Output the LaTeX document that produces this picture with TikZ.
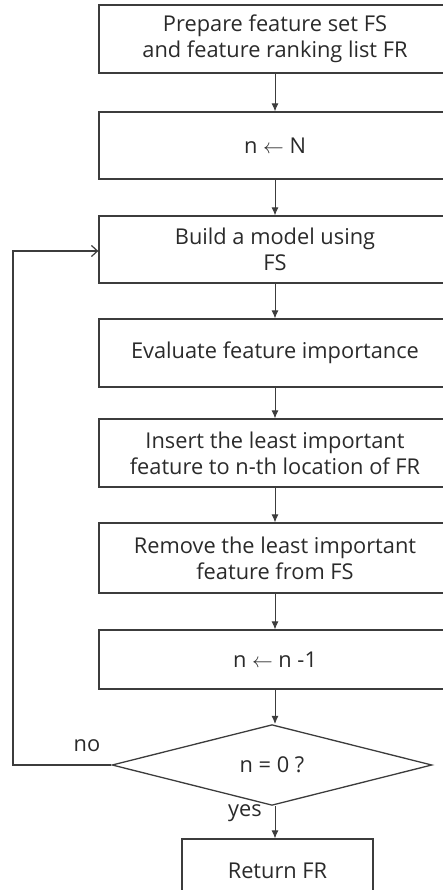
\documentclass[tikz,border=0pt]{standalone}
\usepackage{fontspec}
\setmainfont{Open Sans}
\usetikzlibrary{shapes.geometric,arrows.meta}

\definecolor{linegray}{HTML}{3C3C3C}
\definecolor{textgray}{HTML}{2A2A2A}

\begin{document}
\begin{tikzpicture}[x=1pt,y=-1pt,
		stepbox/.style={draw=linegray,line width=1.3pt,minimum width=352pt,inner sep=0pt,
			align=center,text=textgray,font=\fontsize{21.8}{26}\selectfont},
		decbox/.style={draw=linegray,line width=1.3pt,shape=diamond,minimum width=320pt,
			minimum height=69pt,inner sep=0pt,text=textgray,font=\fontsize{21.8}{26}\selectfont},
		flow/.style={draw=linegray,line width=0.9pt,-{Latex[length=8pt,width=7pt]}},
		back/.style={draw=linegray,line width=1.2pt,-{Straight Barb[length=6pt,width=11pt]}},
		lbl/.style={text=textgray,font=\fontsize{21.8}{26}\selectfont,inner sep=0pt}]
		\useasboundingbox (0,0) rectangle (443,890);
		\clip (0,0) rectangle (443,890);
		
		%steps
		\node[stepbox,minimum height=68pt] (prep) at (275,39) {Prepare feature set FS\\and feature ranking list FR};
		\node[stepbox,minimum height=67pt] (init) at (275,145.5) {n $\leftarrow$ N};
		\node[stepbox,minimum height=67pt] (build) at (275,249.5) {Build a model using\\FS};
		\node[stepbox,minimum height=68pt] (eval) at (275,353) {Evaluate feature importance};
		\node[stepbox,minimum height=68pt] (insert) at (275,453) {Insert the least important\\feature to n-th location of FR};
		\node[stepbox,minimum height=70pt] (remove) at (275,558) {Remove the least important\\feature from FS};
		\node[stepbox,minimum height=59pt] (dec) at (275,659.5) {n $\leftarrow$ n -1};
		
		%test
		\node[decbox] (test) at (272,765) {n = 0 ?};
		\node[stepbox,minimum width=191pt,minimum height=64pt] (ret) at (277.5,871) {Return FR};
		
		%arrows
		\draw[flow] (prep.south) -- (init.north);
		\draw[flow] (init.south) -- (build.north);
		\draw[flow] (build.south) -- (eval.north);
		\draw[flow] (eval.south) -- (insert.north);
		\draw[flow] (insert.south) -- (remove.north);
		\draw[flow] (remove.south) -- (dec.north);
		\draw[flow] (dec.south) -- (dec.south |- test.north);
		\draw[flow] (test.south -| dec.south) -- (dec.south |- ret.north);
		
		%loop back
		\coordinate (turn) at (13,765);
		\draw[back] (test.west) -- (turn) |- ([yshift=-1.5pt]build.west);
		
		%labels
		\node[lbl] (no) at (87,746) {no};
		\node[lbl] (yes) at (245,813) {yes};
		\end{tikzpicture}
\end{document}
